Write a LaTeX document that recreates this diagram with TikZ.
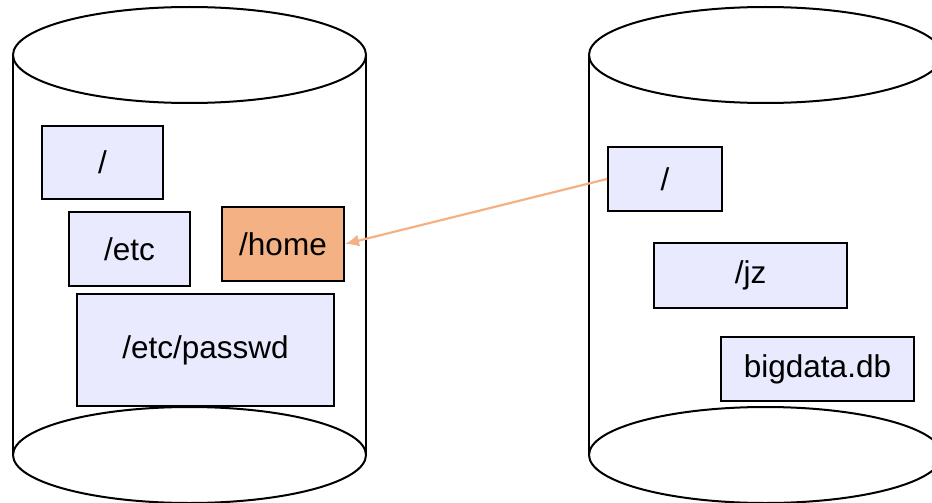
\documentclass[tikz,border=0pt]{standalone}
\usepackage{fontspec}
\setmainfont{Liberation Sans}
\usetikzlibrary{arrows.meta}
\definecolor{boxfill}{HTML}{E9EAFD}
\definecolor{homefill}{HTML}{F4B183}
\definecolor{arrowc}{HTML}{F4B183}
\tikzset{
  dirbox/.style={draw=black, line width=2pt, fill=boxfill, rectangle, inner sep=0pt,
    font=\fontsize{31.5}{36}\selectfont},
  homebox/.style={dirbox, fill=homefill},
  cyl/.style={draw=black, line width=2pt},
  link/.style={draw=arrowc, line width=2.2pt, -{Latex[length=14pt,width=12pt]}}
}
\begin{document}
\begin{tikzpicture}[x=1pt,y=-1pt]
\useasboundingbox (0,0) rectangle (932,503);
% left cylinder
\draw[cyl] (13,55) -- (13,455);
\draw[cyl] (366,55) -- (366,455);
\draw[cyl] (189.5,55) ellipse [x radius=176.5, y radius=48];
\draw[cyl] (189.5,455) ellipse [x radius=176.5, y radius=48];
% right cylinder
\draw[cyl] (589,55) -- (589,455);
\draw[cyl] (942,55) -- (942,455);
\draw[cyl] (765.5,55) ellipse [x radius=176.5, y radius=48];
\draw[cyl] (765.5,455) ellipse [x radius=176.5, y radius=48];
% left boxes
\node[dirbox, minimum width=121, minimum height=73] (lroot) at (102.5,162.5) {/};
\node[dirbox, minimum width=121, minimum height=74] (etc) at (129.5,249) {/etc};
\node[homebox, minimum width=122, minimum height=74] (home) at (283,244) {/home};
\node[dirbox, minimum width=257, minimum height=112] (passwd) at (205.5,350) {/etc/passwd};
% right boxes
\node[dirbox, minimum width=114, minimum height=64] (rroot) at (665,179) {/};
\node[dirbox, minimum width=193, minimum height=65] (jz) at (750.5,275.5) {/jz};
\node[dirbox, minimum width=193, minimum height=64] (db) at (817.5,369) {bigdata.db};
% link
\draw[link] (rroot.west) -- (home.east);
\end{tikzpicture}
\end{document}
